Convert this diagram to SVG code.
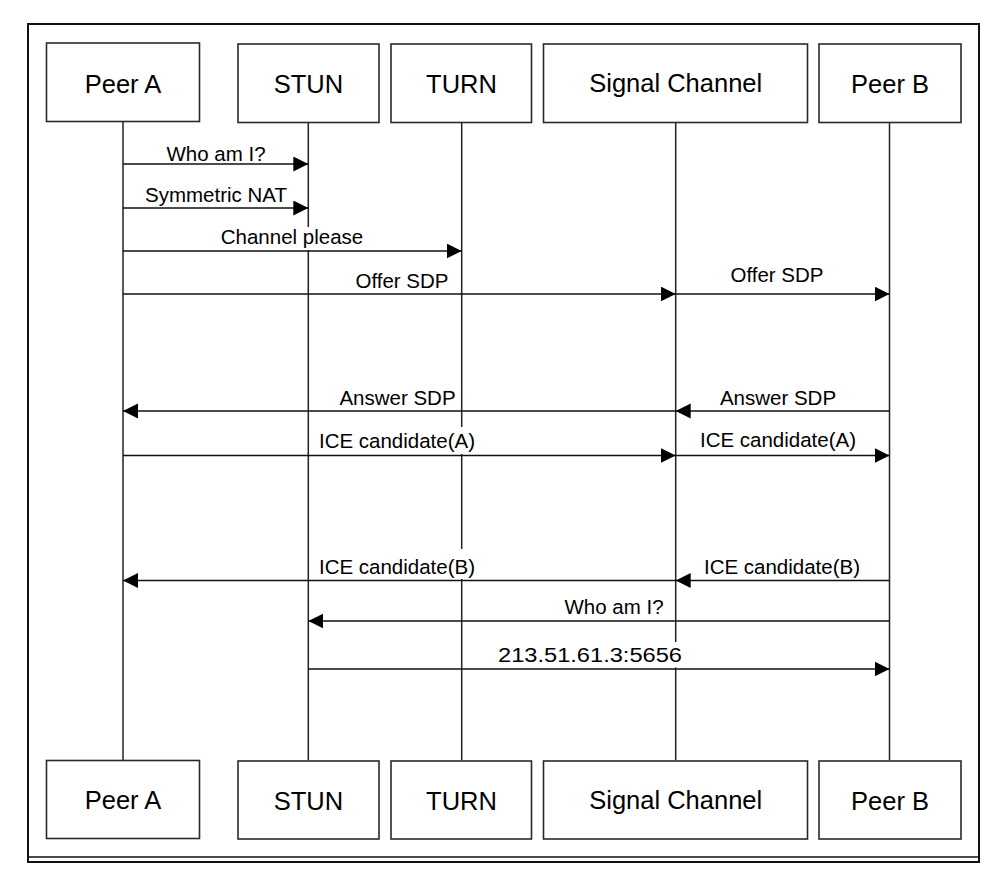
<svg xmlns="http://www.w3.org/2000/svg" width="1008" height="890" viewBox="0 0 1008 890">
<style>
.frame{fill:none;stroke:#111;stroke-width:2}
.box{fill:#fff;stroke:#2a2a2a;stroke-width:1.6}
.bl{font-family:"Liberation Sans",Arial,sans-serif;font-size:25.5px;fill:#000;text-anchor:middle}
.life{stroke:#222;stroke-width:1.5;fill:none}
.msg{stroke:#111;stroke-width:1.6;fill:none;marker-end:url(#ah)}
.ml{font-family:"Liberation Sans",Arial,sans-serif;font-size:20.5px;fill:#000;text-anchor:middle}
.bg{fill:#fff}
</style>
<defs>
<marker id="ah" markerUnits="userSpaceOnUse" markerWidth="16" markerHeight="16" refX="15" refY="7.5" orient="auto">
<path d="M0,0 L15,7.5 L0,15 z" fill="#000"/>
</marker>
</defs>
<rect width="1008" height="890" fill="#fff"/>
<g id="frame">
<rect class="frame" x="28" y="24" width="951" height="838"/>
<line x1="28" y1="857" x2="979" y2="857" stroke="#111" stroke-width="1.5"/>
</g>
<g id="lifelines">
<line class="life" x1="123" y1="122" x2="123" y2="760"/>
<line class="life" x1="308.3" y1="122" x2="308.3" y2="760"/>
<line class="life" x1="461.7" y1="122" x2="461.7" y2="760"/>
<line class="life" x1="675.7" y1="122" x2="675.7" y2="760"/>
<line class="life" x1="889.5" y1="122" x2="889.5" y2="760"/>
</g>
<g id="connectors">
<line class="msg" x1="123" y1="164" x2="308.3" y2="164"/>
<line class="msg" x1="123" y1="208" x2="308.3" y2="208"/>
<line class="msg" x1="123" y1="251" x2="461.7" y2="251"/>
<line class="msg" x1="123" y1="294" x2="675.7" y2="294"/>
<line class="msg" x1="675.7" y1="294" x2="889.5" y2="294"/>
<line class="msg" x1="675.7" y1="411" x2="123" y2="411"/>
<line class="msg" x1="889.5" y1="411" x2="675.7" y2="411"/>
<line class="msg" x1="123" y1="455.5" x2="675.7" y2="455.5"/>
<line class="msg" x1="675.7" y1="455.5" x2="889.5" y2="455.5"/>
<line class="msg" x1="675.7" y1="580.5" x2="123" y2="580.5"/>
<line class="msg" x1="889.5" y1="580.5" x2="675.7" y2="580.5"/>
<line class="msg" x1="889.5" y1="621" x2="308.3" y2="621"/>
<line class="msg" x1="308.3" y1="669" x2="889.5" y2="669"/>
</g>
<g id="labels">
<text class="ml" x="216" y="160.5">Who am I?</text>
<text class="ml" x="216" y="201.5">Symmetric NAT</text>
<rect class="bg" x="220" y="227" width="144" height="23"/>
<text class="ml" x="292" y="244">Channel please</text>
<text class="ml" x="402" y="288">Offer SDP</text>
<text class="ml" x="777" y="281.5">Offer SDP</text>
<text class="ml" x="397.5" y="405">Answer SDP</text>
<text class="ml" x="778" y="405">Answer SDP</text>
<rect class="bg" x="320" y="427" width="155" height="27"/>
<text class="ml" x="397" y="448">ICE candidate(A)</text>
<text class="ml" x="778" y="447">ICE candidate(A)</text>
<rect class="bg" x="319" y="549" width="156" height="30"/>
<text class="ml" x="397" y="573.5">ICE candidate(B)</text>
<text class="ml" x="782" y="573.5">ICE candidate(B)</text>
<text class="ml" x="614" y="614">Who am I?</text>
<rect class="bg" x="497" y="642" width="186" height="25.5"/>
<text class="ml" x="590" y="662" textLength="184" lengthAdjust="spacingAndGlyphs">213.51.61.3:5656</text>
</g>
<g id="peerA-top"><rect class="box" x="46.5" y="43" width="153" height="78.5"/><text class="bl" x="123" y="93">Peer A</text></g>
<g id="stun-top"><rect class="box" x="238" y="44" width="141" height="78.5"/><text class="bl" x="308.5" y="93">STUN</text></g>
<g id="turn-top"><rect class="box" x="391" y="44" width="140.5" height="78.5"/><text class="bl" x="461.5" y="93">TURN</text></g>
<g id="signal-top"><rect class="box" x="543.5" y="44" width="264" height="78.5"/><text class="bl" x="675.7" y="92">Signal Channel</text></g>
<g id="peerB-top"><rect class="box" x="819" y="44" width="142" height="78.5"/><text class="bl" x="890" y="93">Peer B</text></g>
<g id="peerA-bottom"><rect class="box" x="46.5" y="760.5" width="153" height="78"/><text class="bl" x="123" y="809">Peer A</text></g>
<g id="stun-bottom"><rect class="box" x="238" y="761" width="141" height="78"/><text class="bl" x="308.5" y="810">STUN</text></g>
<g id="turn-bottom"><rect class="box" x="391" y="761" width="140.5" height="78"/><text class="bl" x="461.5" y="810">TURN</text></g>
<g id="signal-bottom"><rect class="box" x="543.5" y="761" width="264" height="78"/><text class="bl" x="675.7" y="809">Signal Channel</text></g>
<g id="peerB-bottom"><rect class="box" x="819" y="761" width="142" height="78"/><text class="bl" x="890" y="810">Peer B</text></g>
</svg>
